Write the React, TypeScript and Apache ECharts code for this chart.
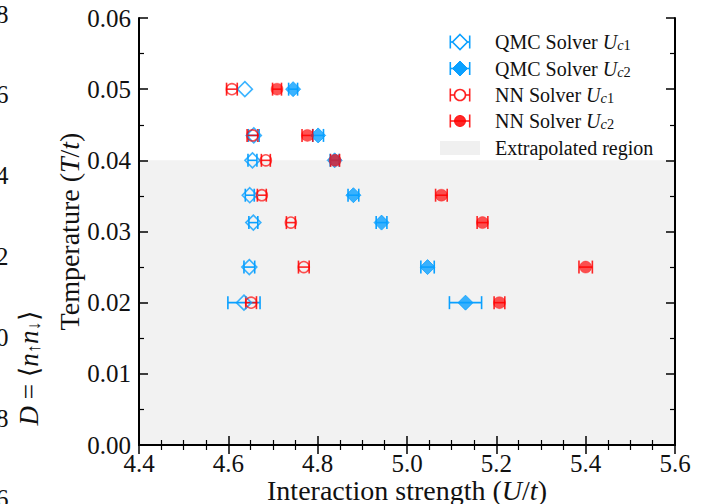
import React, { useEffect, useRef } from "react";
import * as echarts from "echarts";

// ---- data ----
const T_VALUES = [0.05, 0.0435, 0.04, 0.0351, 0.03125, 0.025, 0.02];
const QMC_UC1 = [4.637, 4.657, 4.654, 4.648, 4.656, 4.647, 4.635];
const QMC_UC1_ERR = [0, 0.012, 0.01, 0.01, 0.01, 0.012, 0.036];
const QMC_UC2 = [4.745, 4.801, 4.838, 4.88, 4.943, 5.046, 5.131];
const QMC_UC2_ERR = [0.01, 0.012, 0.01, 0.012, 0.012, 0.015, 0.036];
const NN_UC1 = [4.608, 4.654, 4.684, 4.675, 4.74, 4.769, 4.651];
const NN_UC1_ERR = [0.012, 0.012, 0.01, 0.01, 0.01, 0.012, 0.012];
const NN_UC2 = [4.709, 4.777, 4.839, 5.077, 5.169, 5.4, 5.207];
const NN_UC2_ERR = [0.01, 0.012, 0.01, 0.013, 0.012, 0.015, 0.012];
const EXTRAPOLATED_MAX_T = 0.04;
const X_MIN = 4.4, X_MAX = 5.6, X_STEP = 0.2;
const Y_MIN = 0, Y_MAX = 0.06, Y_STEP = 0.01;
const NEIGHBOUR_TICKS = ["1.8", "1.6", "1.4", "1.2", "1.0", "0.8", "0.6"];
const LEGEND_LABELS = [
  "QMC Solver {i|U}{si|c}{sn|1}",
  "QMC Solver {i|U}{si|c}{sn|2}",
  "NN Solver {i|U}{si|c}{sn|1}",
  "NN Solver {i|U}{si|c}{sn|2}",
  "Extrapolated region",
];

const BLUE = "#0aa0ff";
const RED = "rgba(255,0,0,0.85)";
const FONT = "'Liberation Serif', 'DejaVu Serif', serif";
const TXT = "#111";

const pts = (u: number[], e: number[]) => u.map((v, i) => [v, T_VALUES[i], e[i]]);

const errSeries = (name: string, data: number[][], color: string) => ({
  type: "custom",
  name: name + "-err",
  z: 3,
  data,
  encode: { x: 0, y: 1 },
  renderItem: (params: any, api: any) => {
    const u = api.value(0), t = api.value(1), e = api.value(2);
    if (!e) return { type: "group", children: [] };
    const p1 = api.coord([u - e, t]);
    const p2 = api.coord([u + e, t]);
    const h = 6.5;
    const st = { stroke: color, lineWidth: 1.6 };
    return {
      type: "group",
      children: [
        { type: "line", shape: { x1: p1[0], y1: p1[1], x2: p2[0], y2: p2[1] }, style: st },
        { type: "line", shape: { x1: p1[0], y1: p1[1] - h, x2: p1[0], y2: p1[1] + h }, style: st },
        { type: "line", shape: { x1: p2[0], y1: p2[1] - h, x2: p2[0], y2: p2[1] + h }, style: st },
      ],
    };
  },
});

const richBase = (size: number) => ({
  i: { fontFamily: FONT, fontSize: size, fontStyle: "italic", color: TXT },
  si: { fontFamily: FONT, fontSize: size * 0.72, fontStyle: "italic", color: TXT, lineHeight: size * 0.6, verticalAlign: "bottom" },
  sn: { fontFamily: FONT, fontSize: size * 0.72, color: TXT, lineHeight: size * 0.6, verticalAlign: "bottom" },
  s: { fontFamily: FONT, fontSize: size * 0.7, color: TXT, lineHeight: size * 0.6, verticalAlign: "bottom" },
});

export default function App() {
  const ref = useRef<HTMLDivElement>(null);
  useEffect(() => {
    if (!ref.current) return;
    const chart = echarts.init(ref.current, null, { renderer: "svg" });

    const axisCommon = {
      z: 10,
      axisLine: { lineStyle: { color: "#000", width: 2 } },
      axisTick: { inside: true, length: 9, lineStyle: { color: "#000", width: 1.5 } },
      minorTick: { show: true, length: 5, lineStyle: { color: "#000", width: 1.2 } },
      splitLine: { show: false },
      minorSplitLine: { show: false },
    };

    // legend graphics
    const lx = 460, rows = [42, 68.5, 95, 121];
    const cap = 9.7, ch = 6.5;
    const legendGraphics: any[] = [];
    const colors = [BLUE, BLUE, RED, RED];
    rows.forEach((y, k) => {
      const c = colors[k];
      const st = { stroke: c, lineWidth: 1.6 };
      legendGraphics.push(
        { type: "line", shape: { x1: lx - cap, y1: y, x2: lx + cap, y2: y }, style: st },
        { type: "line", shape: { x1: lx - cap, y1: y - ch, x2: lx - cap, y2: y + ch }, style: st },
        { type: "line", shape: { x1: lx + cap, y1: y - ch, x2: lx + cap, y2: y + ch }, style: st }
      );
      if (k < 2) {
        legendGraphics.push({
          type: "polygon",
          shape: { points: [[lx, y - 7.5], [lx + 7.5, y], [lx, y + 7.5], [lx - 7.5, y]] },
          style: k === 0 ? { fill: "#fff", stroke: c, lineWidth: 1.6 } : { fill: c, stroke: c, lineWidth: 1 },
        });
      } else {
        legendGraphics.push({
          type: "circle",
          shape: { cx: lx, cy: y, r: 5.5 },
          style: k === 2 ? { fill: "#fff", stroke: c, lineWidth: 1.6 } : { fill: c, stroke: c, lineWidth: 1 },
        });
      }
    });
    legendGraphics.push({ type: "rect", shape: { x: 440, y: 141, width: 40, height: 14 }, style: { fill: "#f0f0f0" } });
    [...rows, 148].forEach((y, k) => {
      legendGraphics.push({
        type: "text",
        x: 495,
        y,
        style: {
          text: LEGEND_LABELS[k],
          fontFamily: FONT,
          fontSize: 20,
          fill: TXT,
          verticalAlign: "middle",
          textAlign: "left",
          rich: richBase(20),
        },
      });
    });

    // cropped neighbour-plot texts at the left edge
    const neighbour: any[] = NEIGHBOUR_TICKS.map((t, k) => ({
      type: "text",
      x: 8.5,
      y: 14 + k * 80.8,
      style: { text: t, fontFamily: FONT, fontSize: 25, fill: TXT, textAlign: "right", verticalAlign: "middle" },
    }));
    neighbour.push({
      type: "text",
      x: 29,
      y: 368,
      rotation: Math.PI / 2,
      style: {
        text: "{i|D} = ⟨{i|n}{s|↑}{i|n}{s|↓}⟩",
        fontFamily: FONT,
        fontSize: 27,
        fill: TXT,
        textAlign: "center",
        verticalAlign: "middle",
        rich: richBase(27),
      },
    });

    const option: any = {
      animation: false,
      backgroundColor: "#fff",
      grid: { left: 139, right: 29, top: 18, bottom: 59, containLabel: false, outerBoundsMode: "none" },
      xAxis: [
        {
          ...axisCommon,
          type: "value",
          min: X_MIN,
          max: X_MAX,
          interval: X_STEP,
          minorTick: { ...axisCommon.minorTick, splitNumber: 4 },
          axisLabel: { formatter: (v: number) => v.toFixed(1), fontFamily: FONT, fontSize: 25, color: TXT, margin: 6 },
          name: "Interaction strength ({i|U}/{i|t})",
          nameLocation: "middle",
          nameMoveOverlap: false,
          nameGap: 31,
          nameTextStyle: { fontFamily: FONT, fontSize: 28, color: TXT, rich: richBase(28) },
        },
        {
          ...axisCommon,
          type: "value",
          position: "top",
          min: X_MIN,
          max: X_MAX,
          interval: X_STEP,
          minorTick: { ...axisCommon.minorTick, splitNumber: 4 },
          axisLabel: { show: false },
        },
      ],
      yAxis: [
        {
          ...axisCommon,
          type: "value",
          min: Y_MIN,
          max: Y_MAX,
          interval: Y_STEP,
          minorTick: { ...axisCommon.minorTick, splitNumber: 2 },
          axisLabel: { formatter: (v: number) => v.toFixed(2), fontFamily: FONT, fontSize: 25, color: TXT, margin: 8 },
          name: "Temperature ({i|T}/{i|t})",
          nameLocation: "middle",
          nameMoveOverlap: false,
          nameRotate: 90,
          nameGap: 56,
          nameTextStyle: { fontFamily: FONT, fontSize: 28, color: TXT, rich: richBase(28) },
        },
        {
          ...axisCommon,
          type: "value",
          position: "right",
          min: Y_MIN,
          max: Y_MAX,
          interval: Y_STEP,
          minorTick: { ...axisCommon.minorTick, splitNumber: 2 },
          axisLabel: { show: false },
        },
      ],
      graphic: [...legendGraphics, ...neighbour],
      series: [
        {
          type: "scatter",
          name: "region",
          z: 1,
          data: [],
          markArea: {
            silent: true,
            itemStyle: { color: "#f2f2f2" },
            data: [[{ yAxis: 0 }, { yAxis: EXTRAPOLATED_MAX_T }]],
          },
        },
        errSeries("QMC Uc1", pts(QMC_UC1, QMC_UC1_ERR), BLUE),
        {
          type: "scatter", name: "QMC Uc1", z: 4, symbol: "diamond", symbolSize: 15,
          data: pts(QMC_UC1, QMC_UC1_ERR).map((d) => [d[0], d[1]]),
          itemStyle: { color: "rgba(0,0,0,0)", borderColor: BLUE, borderWidth: 1.6 },
        },
        errSeries("QMC Uc2", pts(QMC_UC2, QMC_UC2_ERR), BLUE),
        {
          type: "scatter", name: "QMC Uc2", z: 4, symbol: "diamond", symbolSize: 15,
          data: pts(QMC_UC2, QMC_UC2_ERR).map((d) => [d[0], d[1]]),
          itemStyle: { color: BLUE, borderColor: BLUE, borderWidth: 1 },
        },
        errSeries("NN Uc1", pts(NN_UC1, NN_UC1_ERR), RED),
        {
          type: "scatter", name: "NN Uc1", z: 5, symbol: "circle", symbolSize: 11,
          data: pts(NN_UC1, NN_UC1_ERR).map((d) => [d[0], d[1]]),
          itemStyle: { color: "rgba(0,0,0,0)", borderColor: RED, borderWidth: 1.6 },
        },
        errSeries("NN Uc2", pts(NN_UC2, NN_UC2_ERR), RED),
        {
          type: "scatter", name: "NN Uc2", z: 5, symbol: "circle", symbolSize: 12,
          data: pts(NN_UC2, NN_UC2_ERR).map((d) => [d[0], d[1]]),
          itemStyle: { color: RED, borderColor: RED, borderWidth: 0.5 },
        },
      ],
    };
    chart.setOption(option);
    return () => chart.dispose();
  }, []);

  return <div ref={ref} style={{ width: 704, height: 504, position: "absolute", left: 0, top: 0 }} />;
}
